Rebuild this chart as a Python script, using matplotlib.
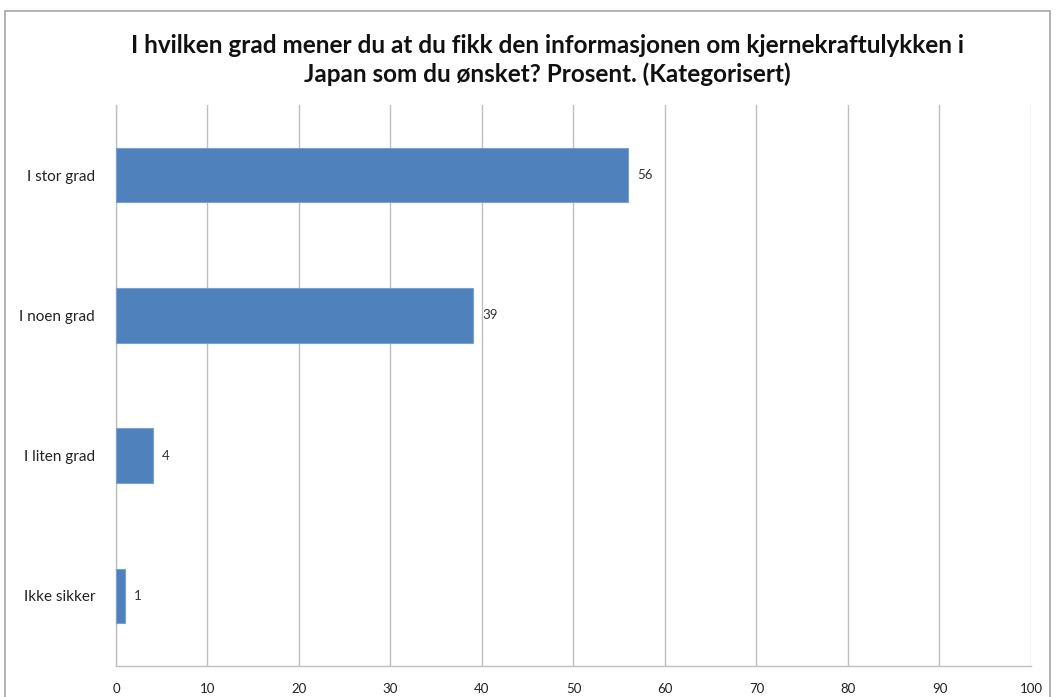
import matplotlib.pyplot as plt
from matplotlib.patches import Rectangle

categories = ['I stor grad', 'I noen grad', 'I liten grad', 'Ikke sikker']
values = [56, 39, 4, 1]
xticks = list(range(0, 101, 10))
title = ('I hvilken grad mener du at du fikk den informasjonen om kjernekraftulykken i\n'
         'Japan som du ønsket? Prosent. (Kategorisert)')

plt.rcParams['font.family'] = ['Lato', 'DejaVu Sans']

fig = plt.figure(figsize=(10.56, 6.97), dpi=100)
ax = fig.add_axes([0.1098, 0.0445, 0.8665, 0.8049])

# outer chart frame
fig.patches.append(Rectangle((0.005, -0.01), 0.989, 0.994, transform=fig.transFigure,
                             fill=False, edgecolor='#a6a6a6', linewidth=1.2))

y = range(len(categories))
ax.barh(y, values, height=0.39, color='#4f81bd', edgecolor='#7aa0d0', linewidth=0.8, zorder=3)

for i, v in enumerate(values):
    ax.text(v + 1.0, i, str(v), va='center', ha='left', fontsize=9.5, color='#333333', zorder=4)

ax.set_xlim(0, 100)
ax.set_ylim(3.5, -0.5)
ax.set_xticks(xticks)
ax.set_yticks(list(y))
ax.set_yticklabels(categories, fontsize=11)
ax.tick_params(axis='x', length=0, pad=12, labelsize=9.5, colors='#222222')
ax.tick_params(axis='y', length=0, pad=15, colors='#222222')

ax.grid(axis='x', color='#bfbfbf', linewidth=1, zorder=0)
for side in ['top', 'right']:
    ax.spines[side].set_visible(False)
for side in ['left', 'bottom']:
    ax.spines[side].set_color('#bfbfbf')
    ax.spines[side].set_linewidth(1)

fig.text(0.518, 0.914, title, ha='center', va='center', fontsize=17.5, fontweight='bold',
         linespacing=1.3, color='#111111')

fig.savefig('out.png', dpi=100)
